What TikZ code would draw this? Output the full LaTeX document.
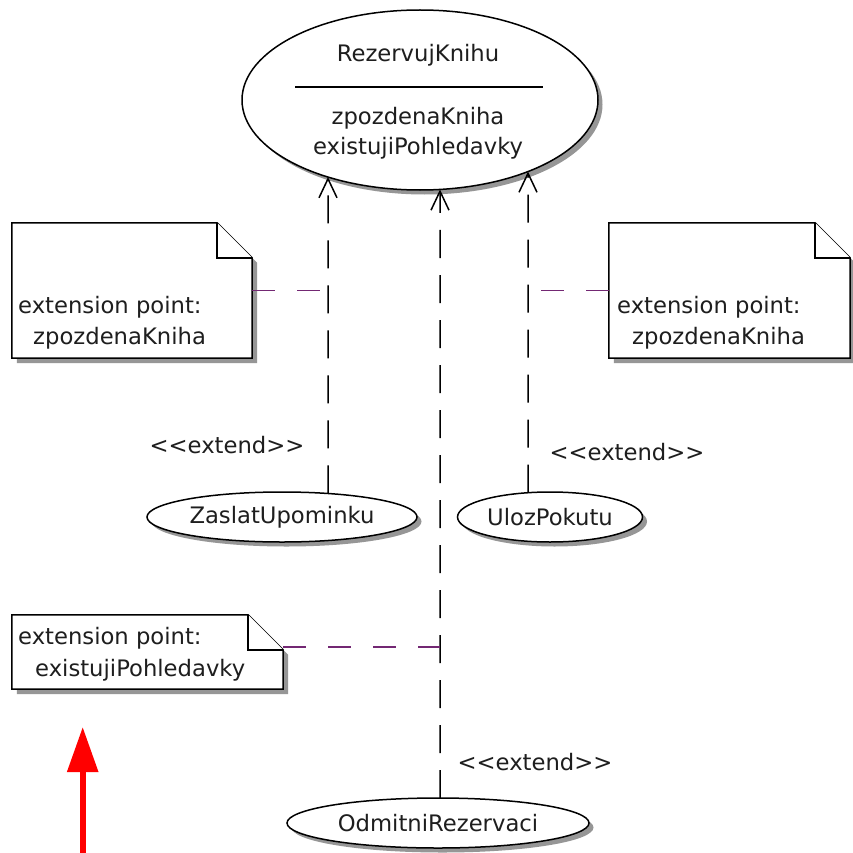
\documentclass[tikz,border=0pt]{standalone}
\usepackage{fontspec}
\setmainfont{DejaVu Sans}
\usetikzlibrary{arrows.meta,shapes.geometric,shadows,intersections,calc}
\definecolor{notelink}{RGB}{115,40,115}
\definecolor{shadowgray}{RGB}{150,150,150}
\definecolor{ink}{RGB}{30,30,30}

% note with a folded top-right corner and a drop shadow, drawn over a named node
\newcommand\drawumlnote[2]{%
  \fill[fill=shadowgray] ($(#1.north west)+(5,5)$) -- ($(#1.north east)+(5-#2,5)$)
    -- ($(#1.north east)+(5,5+#2)$) -- ($(#1.south east)+(5,5)$)
    -- ($(#1.south west)+(5,5)$) -- cycle;
  \filldraw[notebox] (#1.north west) -- ($(#1.north east)+(-#2,0)$)
    -- ($(#1.north east)+(0,#2)$) -- (#1.south east) -- (#1.south west) -- cycle;
  \draw[notebox] ($(#1.north east)+(-#2,0)$) -- ($(#1.north east)+(-#2,#2)$)
    -- ($(#1.north east)+(0,#2)$);
}

\begin{document}
\begin{tikzpicture}[x=1pt,y=-1pt,
  every node/.style={font=\fontsize{22.7}{31}\selectfont, text=ink},
  usecase/.style={ellipse, draw=black, line width=1.5pt, fill=white, inner sep=0pt,
    drop shadow={shadow xshift=4.5pt, shadow yshift=-4.5pt, fill=shadowgray, opacity=1}},
  txt/.style={inner sep=0pt},
  notearea/.style={draw=none, inner sep=0pt},
  notebox/.style={fill=white, draw=black, line width=1.5pt},
  extendlink/.style={draw=black, line width=1.5pt, dash pattern=on 28pt off 17pt,
    -{Straight Barb[length=19pt, width=18pt, line width=1.5pt]}},
  notelinkstyle/.style={draw=notelink, line width=1.5pt, dash pattern=on 23pt off 22pt},
]
\fill[white] (0,0) rectangle (852,853);
\useasboundingbox (0,0) rectangle (852,853);

% notes
\node[notearea, minimum width=240pt, minimum height=135pt] (n1) at (132,290.5) {};
\node[notearea, minimum width=241pt, minimum height=135pt] (n2) at (729.5,290.5) {};
\node[notearea, minimum width=271pt, minimum height=74pt] (n3) at (147.5,652) {};
\drawumlnote{n1}{35}
\drawumlnote{n2}{35}
\drawumlnote{n3}{35}
\node[txt, anchor=west] (n1a) at (18,307) {extension point:};
\node[txt, anchor=west] (n1b) at (33,338) {zpozdenaKniha};
\node[txt, anchor=west] (n2a) at (617,307) {extension point:};
\node[txt, anchor=west] (n2b) at (632,338) {zpozdenaKniha};
\node[txt, anchor=west] (n3a) at (18,638) {extension point:};
\node[txt, anchor=west] (n3b) at (35,670) {existujiPohledavky};

% use cases
\node[usecase, minimum width=356pt, minimum height=180pt] (rk) at (420,100) {};
\node[txt] (rkt) at (418,55) {RezervujKnihu};
\draw[line width=1.3pt] ($(rk.center)+(-125,-13)$) coordinate (sepL)
  -- ($(rk.center)+(123,-13)$) coordinate (sepR);
\node[txt, align=center, font=\fontsize{22.7}{30}\selectfont] (rkx) at (418,133)
  {zpozdenaKniha\\existujiPohledavky};

\node[usecase, minimum width=270pt, minimum height=50pt] (zu) at (282,517) {ZaslatUpominku};
\node[usecase, minimum width=185pt, minimum height=50pt] (ul) at (550,517) {UlozPokutu};
\node[usecase, minimum width=302pt, minimum height=50pt] (od) at (438,823) {OdmitniRezervaci};

% columns of the extend links
\coordinate (colL) at (328,0);
\coordinate (colM) at (440,0);
\coordinate (colR) at (528,0);
\path[name path=rkb] (rk.center) ellipse [x radius=178, y radius=90];
\path[name path=zub] (zu.center) ellipse [x radius=135, y radius=25];
\path[name path=ulb] (ul.center) ellipse [x radius=92.5, y radius=25];
\path[name path=odb] (od.center) ellipse [x radius=151, y radius=25];
\path[name path=vL] (colL) -- ++(0,853);
\path[name path=vM] (colM) -- ++(0,853);
\path[name path=vR] (colR) -- ++(0,853);
\path[name intersections={of=vL and rkb, sort by=vL, name=pL}];
\path[name intersections={of=vM and rkb, sort by=vM, name=pM}];
\path[name intersections={of=vR and rkb, sort by=vR, name=pR}];
\path[name intersections={of=vL and zub, sort by=vL, name=cL}];
\path[name intersections={of=vM and odb, sort by=vM, name=cM}];
\path[name intersections={of=vR and ulb, sort by=vR, name=cR}];

\draw[extendlink] (cL-1) -- (pL-2);
\draw[extendlink] (cR-1) -- (pR-2);
\draw[extendlink] (cM-1) -- (pM-2);

% links from the notes
\coordinate (n3p) at ($(n3.north east)+(0,32)$);
\draw[notelinkstyle] (n1.east) -- (n1.east -| colL);
\draw[notelinkstyle] (n2.west) -- (n2.west -| colR);
\draw[notelinkstyle] (n3p) -- (n3p -| colM);

% stereotype labels
\node[txt] (e1) at (227,445) {<{}<extend>{}>};
\node[txt] (e2) at (627,452) {<{}<extend>{}>};
\node[txt] (e3) at (535,762) {<{}<extend>{}>};

% red marker arrow
\coordinate (ra0) at (82.7,853);
\coordinate (ra1) at (82.7,727);
\draw[red, line width=5.7pt, -{Triangle[length=45pt, width=30pt]}] (ra0) -- (ra1);
\end{tikzpicture}
\end{document}
